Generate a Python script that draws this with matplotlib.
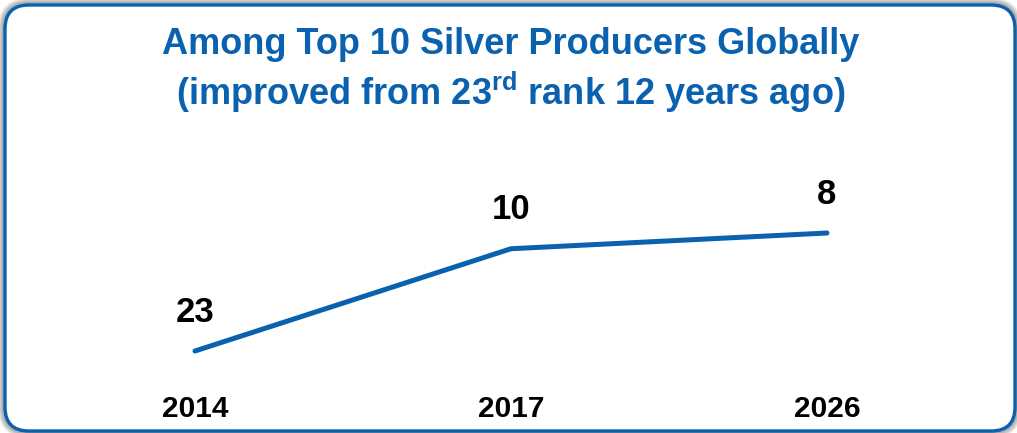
import matplotlib
matplotlib.use("Agg")
import matplotlib.pyplot as plt
from matplotlib.patches import FancyBboxPatch

plt.rcParams['font.family'] = ['Liberation Sans', 'DejaVu Sans']
plt.rcParams['mathtext.fontset'] = 'custom'
plt.rcParams['mathtext.rm'] = 'Liberation Sans:bold'
plt.rcParams['mathtext.bf'] = 'Liberation Sans:bold'

# rank among silver producers per year
years = ['2014', '2017', '2026']
ranks = [23, 10, 8]

title1 = 'Among Top 10 Silver Producers Globally'
title2 = r'(improved from 23$^{\mathrm{rd}}$ rank 12 years ago)'

BLUE = '#0A61AF'
W, H = 1017, 433

fig = plt.figure(figsize=(W / 100, H / 100), dpi=100)
fig.patch.set_facecolor('white')

# frame with soft shadow, in pixel coords
bg = fig.add_axes([0, 0, 1, 1])
bg.set_xlim(0, W)
bg.set_ylim(H, 0)
bg.axis('off')
bx, by, bw, bh = 5, 5, 1010, 426
for k in range(7, 0, -1):
    sh = FancyBboxPatch((bx - k, by - k), bw + 2 * k, bh + 2 * k,
                        boxstyle='round,pad=0,rounding_size=%d' % (24 + k),
                        fc='black', ec='none', alpha=0.07)
    bg.add_patch(sh)
box = FancyBboxPatch((bx, by), bw, bh, boxstyle='round,pad=0,rounding_size=24',
                     fc='white', ec=BLUE, lw=2.4)
bg.add_patch(box)

bg.text(511, 45, title1, color=BLUE, fontsize=26, fontweight='bold',
        ha='center', va='center')
bg.text(511, 92, title2, color=BLUE, fontsize=26, fontweight='bold',
        ha='center', va='center')

# line chart: x 0..2 -> 195..827 px, rank 23..8 -> 351..233 px
x0, x1 = 195, 827
y0, y1 = 351, 233
ax = fig.add_axes([x0 / W, (H - y0) / H, (x1 - x0) / W, (y0 - y1) / H])
ax.set_xlim(0, len(years) - 1)
ax.set_ylim(max(ranks), min(ranks))
ax.axis('off')
xs = list(range(len(years)))
ax.plot(xs, ranks, color=BLUE, lw=3.6, solid_capstyle='round', clip_on=False)
for x, r in zip(xs, ranks):
    ax.annotate(str(r), (x, r), xytext=(0, 28), textcoords='offset points',
                ha='center', va='center', fontsize=25, fontweight='bold', color='black')
    ax.annotate(years[x], (x, max(ranks)), xytext=(0, -42), textcoords='offset points',
                ha='center', va='center', fontsize=21.5, fontweight='bold', color='black')

fig.savefig('out.png', dpi=100, facecolor='white')
